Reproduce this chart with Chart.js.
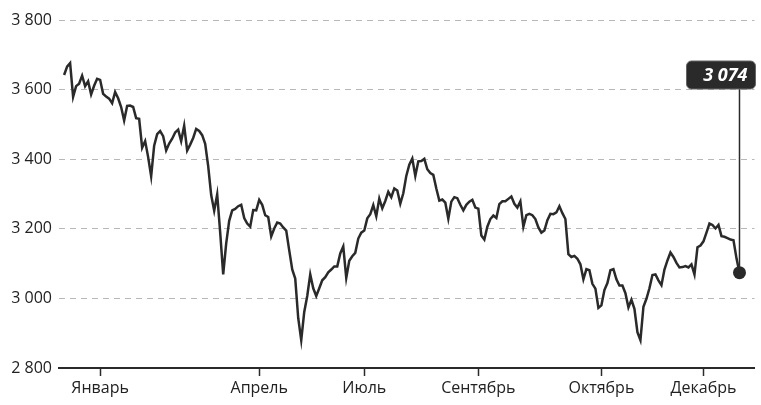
<!DOCTYPE html>
<html>
<head>
<meta charset="utf-8">
<script src="https://cdn.jsdelivr.net/npm/chart.js@4"></script>
<style>
  html, body { margin: 0; padding: 0; background: #fff; }
  #wrap { width: 761px; height: 405px; }
</style>
</head>
<body>
<div id="wrap"><canvas id="chart"></canvas></div>
<script>
// значения индекса по торговым дням
const values = [
  3642, 3666, 3676, 3579, 3610, 3617, 3640, 3610, 3624, 3586,
  3611, 3631, 3628, 3588, 3580, 3574, 3561, 3593, 3575, 3550,
  3511, 3553, 3554, 3550, 3518, 3516, 3433, 3452, 3406, 3351,
  3439, 3472, 3481, 3466, 3425, 3445, 3459, 3477, 3485, 3452,
  3496, 3425, 3442, 3461, 3487, 3481, 3469, 3444, 3380, 3297,
  3252, 3299, 3189, 3069, 3158, 3223, 3253, 3257, 3265, 3269,
  3231, 3215, 3206, 3254, 3253, 3283, 3269, 3239, 3234, 3178,
  3201, 3218, 3215, 3204, 3195, 3138, 3083, 3057, 2943, 2880,
  2961, 3007, 3069, 3029, 3007, 3029, 3052, 3061, 3075, 3083,
  3092, 3092, 3129, 3149, 3059, 3108, 3121, 3131, 3172, 3189,
  3195, 3230, 3242, 3268, 3236, 3287, 3259, 3280, 3306, 3291,
  3316, 3310, 3272, 3302, 3352, 3384, 3402, 3352, 3394, 3395,
  3401, 3371, 3360, 3355, 3316, 3281, 3284, 3275, 3229, 3278,
  3291, 3288, 3269, 3253, 3269, 3278, 3283, 3261, 3258, 3181,
  3169, 3206, 3228, 3238, 3231, 3271, 3279, 3279, 3286, 3293,
  3272, 3261, 3279, 3206, 3239, 3243, 3239, 3228, 3204, 3189,
  3195, 3225, 3243, 3242, 3247, 3265, 3245, 3228, 3127, 3119,
  3122, 3114, 3098, 3055, 3084, 3081, 3042, 3028, 2973, 2980,
  3024, 3044, 3081, 3084, 3055, 3037, 3037, 3015, 2974, 2996,
  2970, 2903, 2880, 2976, 2999, 3029, 3067, 3069, 3052, 3038,
  3083, 3109, 3132, 3119, 3102, 3089, 3090, 3093, 3089, 3098,
  3069, 3147, 3152, 3164, 3189, 3215, 3211, 3201, 3211, 3179,
  3177, 3173, 3169, 3167, 3115, 3074
];

// подписи месяцев и номера дней, где они стоят
const monthLabels = ['Январь', 'Апрель', 'Июль', 'Сентябрь', 'Октябрь', 'Декабрь'];
const monthIdx = [12, 65, 100, 138, 179, 213];

const yTicks = [2800, 3000, 3200, 3400, 3600, 3800];

const dark = '#2a2a2a';
const fontFamily = '"Open Sans", "Noto Sans", sans-serif';

function fmt(v) {
  return String(v).replace(/\B(?=(\d{3})+(?!\d))/g, ' ');
}

const lastIdx = values.length - 1;

// плашка с последним значением
const lastLabel = {
  id: 'lastLabel',
  afterDatasetsDraw(chart) {
    const ctx = chart.ctx;
    const pt = chart.getDatasetMeta(0).data[lastIdx];
    const px = pt.x, py = pt.y;
    const boxW = 69, boxH = 28;
    const left = px - 53;
    const top = chart.chartArea.top + 41;

    ctx.save();
    ctx.strokeStyle = dark;
    ctx.lineWidth = 1.5;
    ctx.beginPath();
    ctx.moveTo(px, top + boxH);
    ctx.lineTo(px, py);
    ctx.stroke();

    ctx.fillStyle = dark;
    ctx.beginPath();
    ctx.roundRect(left, top, boxW, boxH, 5);
    ctx.fill();
    ctx.strokeStyle = '#666';
    ctx.lineWidth = 1;
    ctx.stroke();

    ctx.fillStyle = '#fff';
    ctx.font = 'italic bold 18px ' + fontFamily;
    ctx.textAlign = 'right';
    ctx.textBaseline = 'middle';
    ctx.fillText(fmt(values[lastIdx]), left + boxW - 8, top + boxH / 2 + 1);
    ctx.restore();
  }
};

new Chart(document.getElementById('chart'), {
  type: 'line',
  data: {
    datasets: [{
      data: values.map((v, i) => ({ x: i, y: v })),
      borderColor: dark,
      backgroundColor: dark,
      borderWidth: 2.5,
      tension: 0,
      fill: false,
      pointRadius: (c) => c.dataIndex === lastIdx ? 6.5 : 0,
      pointHoverRadius: (c) => c.dataIndex === lastIdx ? 6.5 : 0,
      pointBorderWidth: 0,
      clip: false
    }]
  },
  options: {
    responsive: true,
    maintainAspectRatio: false,
    animation: false,
    events: [],
    layout: { padding: { top: 20, right: 5, left: 0, bottom: 0 } },
    plugins: {
      legend: { display: false },
      tooltip: { enabled: false }
    },
    scales: {
      x: {
        type: 'linear',
        min: -1.7,
        max: 230,
        afterFit: (s) => { s.height = 37; },
        afterBuildTicks: (s) => { s.ticks = monthIdx.map(v => ({ value: v })); },
        grid: {
          drawOnChartArea: false,
          drawTicks: true,
          tickLength: 8,
          tickColor: dark,
          tickWidth: 1.5
        },
        border: { display: true, color: dark, width: 2 },
        ticks: {
          autoSkip: false,
          maxRotation: 0,
          padding: 3,
          color: '#222',
          font: { family: fontFamily, size: 16 },
          callback: (v, i) => monthLabels[i]
        }
      },
      y: {
        min: 2800,
        max: 3800,
        afterFit: (s) => { s.width = 59; },
        afterBuildTicks: (s) => { s.ticks = yTicks.map(v => ({ value: v })); },
        grid: {
          drawTicks: false,
          color: (c) => c.tick && c.tick.value === 2800 ? 'rgba(0,0,0,0)' : '#b8b8b8',
          lineWidth: 1
        },
        border: { display: false, dash: [6, 5] },
        ticks: {
          padding: 7,
          color: '#222',
          font: { family: fontFamily, size: 16 },
          callback: (v) => fmt(v)
        }
      }
    }
  },
  plugins: [lastLabel]
});
</script>
</body>
</html>
